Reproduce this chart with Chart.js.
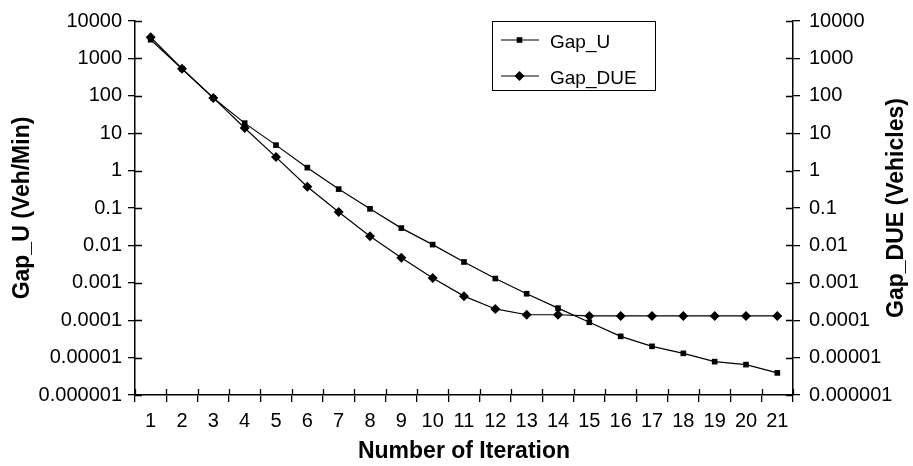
<!DOCTYPE html>
<html>
<head>
<meta charset="utf-8">
<script src="https://cdn.jsdelivr.net/npm/chart.js@4/dist/chart.umd.min.js"></script>
<style>
  html, body { margin: 0; padding: 0; background: #fff; }
  canvas { display: block; }
</style>
</head>
<body>
<canvas id="gapChart" width="913" height="466"></canvas>
<script>
// ===============================
// Datos
// ===============================
const iterations = ["1", "2", "3", "4", "5", "6", "7", "8", "9", "10", "11",
  "12", "13", "14", "15", "16", "17", "18", "19", "20", "21"];

const gapU = [3160, 530, 87, 18.6, 4.8, 1.2, 0.32, 0.095, 0.029, 0.0105, 0.0036,
  0.0013, 0.00051, 0.00021, 0.000088, 0.000037, 0.000020, 0.000013, 0.0000078,
  0.0000065, 0.0000039];

const gapDUE = [3700, 530, 88, 13.8, 2.3, 0.37, 0.078, 0.0175, 0.0047, 0.00135,
  0.00044, 0.0002, 0.00014, 0.00014, 0.00013, 0.00013, 0.00013, 0.00013,
  0.00013, 0.00013, 0.00013];

const yTickLabels = ["0.000001", "0.00001", "0.0001", "0.001", "0.01", "0.1",
  "1", "10", "100", "1000", "10000"];
const yTickValues = yTickLabels.map(Number);

const FONT = "'Liberation Sans', Arial, sans-serif";
const rightTitle = "Gap_DUE (Vehicles)";

// marcador (cuadrado / rombo) para la leyenda
function drawMarker(ctx, style, r, x, y) {
  ctx.beginPath();
  if (style === "rectRot") {
    ctx.moveTo(x - r, y);
    ctx.lineTo(x, y - r);
    ctx.lineTo(x + r, y);
    ctx.lineTo(x, y + r);
    ctx.closePath();
  } else {
    const s = Math.SQRT1_2 * r;
    ctx.rect(x - s, y - s, 2 * s, 2 * s);
  }
  ctx.fill();
}

// ticks que cruzan el eje (parte interior) + titulo derecho girado
const innerTicks = {
  id: "innerTicks",
  afterDraw(chart) {
    const { ctx, chartArea, scales } = chart;
    ctx.save();
    ctx.strokeStyle = "#000";
    ctx.lineWidth = 1.3;
    ctx.beginPath();
    yTickValues.forEach(v => {
      const py = Math.round(scales.y.getPixelForValue(v)) + 0.5;
      ctx.moveTo(chartArea.left, py);
      ctx.lineTo(chartArea.left + 7, py);
      ctx.moveTo(chartArea.right, py);
      ctx.lineTo(chartArea.right - 7, py);
    });
    for (let i = 0; i <= iterations.length; i++) {
      const px = Math.round(scales.x.getPixelForValue(i - 0.5)) + 0.5;
      ctx.moveTo(px, chartArea.bottom);
      ctx.lineTo(px, chartArea.bottom - 6);
    }
    ctx.stroke();

    // titulo del eje derecho, leido de abajo hacia arriba
    ctx.translate(scales.y2.right - 16, (chartArea.top + chartArea.bottom) / 2);
    ctx.rotate(-Math.PI / 2);
    ctx.fillStyle = "#000";
    ctx.font = `bold 23px ${FONT}`;
    ctx.textAlign = "center";
    ctx.textBaseline = "middle";
    ctx.fillText(rightTitle, 0, 0);
    ctx.restore();
  }
};

// leyenda con linea + marcador
const boxLegend = {
  id: "boxLegend",
  afterDraw(chart) {
    const ctx = chart.ctx;
    ctx.save();
    ctx.strokeStyle = "#000";
    ctx.lineWidth = 1;
    ctx.strokeRect(492.5, 21.5, 163, 69);
    chart.data.datasets.forEach((ds, i) => {
      const y = 40 + i * 36;
      ctx.beginPath();
      ctx.lineWidth = 1.2;
      ctx.moveTo(501, y);
      ctx.lineTo(539, y);
      ctx.stroke();
      ctx.fillStyle = "#000";
      drawMarker(ctx, ds.pointStyle, ds.pointRadius, 519.5, y);
      ctx.font = `19px ${FONT}`;
      ctx.textBaseline = "middle";
      ctx.fillText(ds.label, 550, y + 3);
    });
    ctx.restore();
  }
};

function logAxis(position, width, title, titlePad, tickPad) {
  return {
    type: "logarithmic",
    position: position,
    min: 1e-6,
    max: 1e4,
    afterBuildTicks: s => { s.ticks = yTickValues.map(v => ({ value: v })); },
    afterFit: s => { s.width = width; },
    grid: { drawOnChartArea: false, tickLength: 7, color: "#000", lineWidth: 1.3 },
    border: { color: "#000", width: 1.5 },
    ticks: {
      color: "#000",
      font: { family: FONT, size: 20 },
      padding: tickPad,
      callback: v => yTickLabels[yTickValues.indexOf(v)]
    },
    title: {
      display: title !== "",
      text: title,
      color: "#000",
      font: { family: FONT, size: 23, weight: "bold" },
      padding: { top: titlePad, bottom: 0 }
    }
  };
}

new Chart(document.getElementById("gapChart"), {
  type: "line",
  data: {
    labels: iterations,
    datasets: [
      {
        label: "Gap_U",
        data: gapU,
        yAxisID: "y",
        borderColor: "#000",
        backgroundColor: "#000",
        borderWidth: 1.2,
        pointStyle: "rect",
        pointRadius: 4,
        pointBackgroundColor: "#000",
        pointBorderWidth: 0,
        tension: 0,
        fill: false
      },
      {
        label: "Gap_DUE",
        data: gapDUE,
        yAxisID: "y2",
        borderColor: "#000",
        backgroundColor: "#000",
        borderWidth: 1.2,
        pointStyle: "rectRot",
        pointRadius: 5,
        pointBackgroundColor: "#000",
        pointBorderWidth: 0,
        tension: 0,
        fill: false
      }
    ]
  },
  options: {
    responsive: false,
    animation: false,
    devicePixelRatio: 1,
    layout: { padding: { top: 18, left: 0, right: 0, bottom: 0 } },
    plugins: {
      legend: { display: false },
      tooltip: { enabled: false }
    },
    scales: {
      x: {
        type: "category",
        offset: true,
        afterFit: s => { s.height = 71; },
        grid: { offset: true, drawOnChartArea: false, tickLength: 7, color: "#000", lineWidth: 1.3 },
        border: { color: "#000", width: 1.5 },
        ticks: {
          color: "#000",
          font: { family: FONT, size: 20 },
          padding: 7,
          maxRotation: 0,
          autoSkip: false
        },
        title: {
          display: true,
          text: "Number of Iteration",
          color: "#000",
          font: { family: FONT, size: 23, weight: "bold" },
          padding: { top: 0, bottom: 1 }
        }
      },
      y: logAxis("left", 135, "Gap_U (Veh/Min)", 9, 6),
      y2: logAxis("right", 120, "", 0, 9)
    }
  },
  plugins: [innerTicks, boxLegend]
});
</script>
</body>
</html>
